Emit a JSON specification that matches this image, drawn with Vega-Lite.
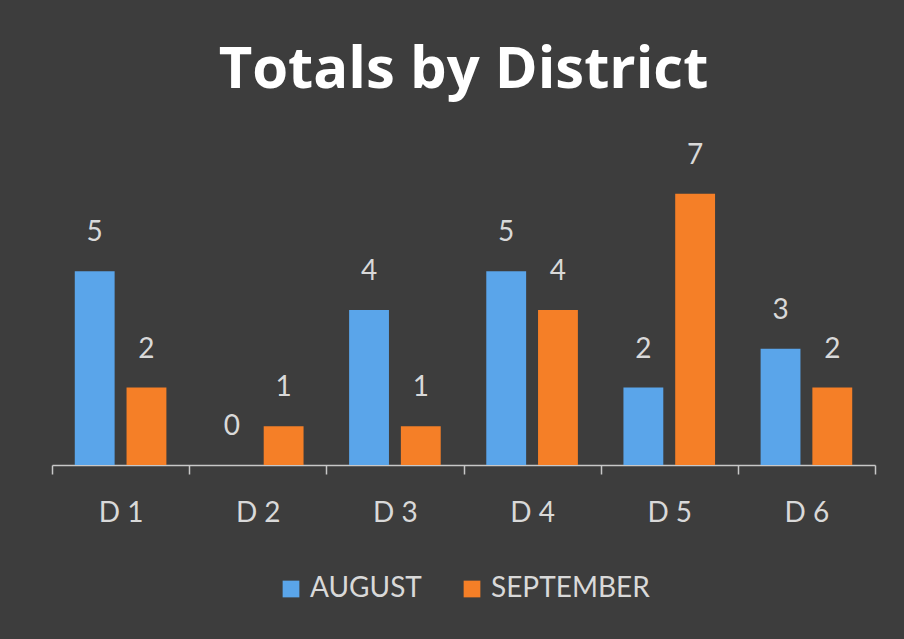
{
  "$schema": "https://vega.github.io/schema/vega-lite/v6.json",
  "autosize": {"type": "none"},
  "width": 823,
  "height": 310,
  "padding": {"left": 52, "top": 155, "right": 29, "bottom": 174},
  "background": "#3d3d3d",
  "title": {
    "text": "Totals by District",
    "font": "Open Sans",
    "fontSize": 58,
    "fontWeight": "bold",
    "color": "#ffffff",
    "anchor": "middle",
    "baseline": "alphabetic",
    "offset": -4
  },
  "data": {
    "values": [
      {"district": "D1", "month": "AUGUST", "total": 5},
      {"district": "D1", "month": "SEPTEMBER", "total": 2},
      {"district": "D2", "month": "AUGUST", "total": 0},
      {"district": "D2", "month": "SEPTEMBER", "total": 1},
      {"district": "D3", "month": "AUGUST", "total": 4},
      {"district": "D3", "month": "SEPTEMBER", "total": 1},
      {"district": "D4", "month": "AUGUST", "total": 5},
      {"district": "D4", "month": "SEPTEMBER", "total": 4},
      {"district": "D5", "month": "AUGUST", "total": 2},
      {"district": "D5", "month": "SEPTEMBER", "total": 7},
      {"district": "D6", "month": "AUGUST", "total": 3},
      {"district": "D6", "month": "SEPTEMBER", "total": 2}
    ]
  },
  "encoding": {
    "x": {
      "field": "district",
      "type": "nominal",
      "title": null,
      "scale": {"paddingInner": 0, "paddingOuter": 0},
      "axis": {
        "labelAngle": 0,
        "labelFont": "Lato",
        "labelFontSize": 28,
        "labelColor": "#d9d9d9",
        "labelPadding": 25,
        "labelExpr": "replace(datum.label, 'D', 'D ')",
        "domainColor": "#c8c8c8",
        "domainWidth": 1.5,
        "tickColor": "#c8c8c8",
        "tickWidth": 1.5,
        "tickSize": 9,
        "tickBand": "extent",
        "grid": false
      }
    },
    "xOffset": {
      "field": "month",
      "type": "nominal",
      "scale": {"paddingInner": 0.23, "paddingOuter": 0.44}
    },
    "y": {
      "field": "total",
      "type": "quantitative",
      "scale": {"domain": [0, 8]},
      "axis": null
    }
  },
  "layer": [
    {
      "mark": {"type": "bar"},
      "encoding": {
        "color": {
          "field": "month",
          "type": "nominal",
          "title": null,
          "scale": {"domain": ["AUGUST", "SEPTEMBER"], "range": ["#5aa5ea", "#f57f27"]},
          "legend": {
            "orient": "none",
            "legendX": 225,
            "legendY": 420,
            "direction": "horizontal",
            "symbolType": "square",
            "symbolSize": 280,
            "symbolStrokeWidth": 0,
            "labelFont": "Lato",
            "labelFontSize": 28,
            "labelColor": "#d9d9d9",
            "labelOffset": 5,
            "columnPadding": 36
          }
        }
      }
    },
    {
      "mark": {"type": "text", "dy": -38, "font": "Lato", "fontSize": 28, "color": "#d9d9d9"},
      "encoding": {"text": {"field": "total", "type": "quantitative"}}
    }
  ],
  "config": {
    "view": {"stroke": null}
  }
}
